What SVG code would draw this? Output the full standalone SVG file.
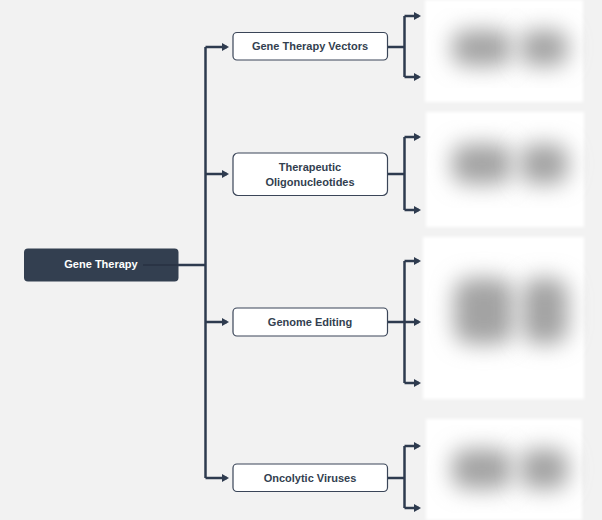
<svg xmlns="http://www.w3.org/2000/svg" width="602" height="520" viewBox="0 0 602 520">
<style>
.conn{fill:none;stroke:#2e3b4f;stroke-width:2.5;stroke-linejoin:miter}
.arr{marker-end:url(#ah)}
.child rect{fill:#ffffff;stroke:#3a4558;stroke-width:1.2}
.child text,.root text{font-family:"Liberation Sans",Arial,sans-serif;font-weight:bold;font-size:11px;text-anchor:middle}
.child text{fill:#333f50}
.root text{fill:#ffffff}
.panel{fill:#ffffff}
.blob{fill:#a3a3a3;filter:url(#blur)}
</style>
<defs>
<marker id="ah" markerWidth="9" markerHeight="9" refX="5" refY="4" orient="auto" markerUnits="userSpaceOnUse">
<path d="M0,0 L7,4 L0,8 Z" fill="#2e3b4f"/>
</marker>
<filter id="blur" x="-60%" y="-60%" width="220%" height="220%"><feGaussianBlur stdDeviation="11"/></filter>
<filter id="soft" x="-10%" y="-10%" width="120%" height="120%"><feGaussianBlur stdDeviation="1.5"/></filter>
</defs>
<rect width="602" height="520" fill="#f2f2f2"/>

<g id="panels">
<rect class="panel" x="425" y="0" width="158" height="102" filter="url(#soft)"/>
<rect class="blob" x="452" y="30" width="60" height="36" rx="14"/>
<rect class="blob" x="520" y="30" width="48" height="36" rx="14"/>
<rect class="panel" x="426" y="112" width="158" height="115" filter="url(#soft)"/>
<rect class="blob" x="452" y="144" width="60" height="40" rx="14"/>
<rect class="blob" x="520" y="144" width="48" height="40" rx="14"/>
<rect class="panel" x="423" y="237" width="161" height="162" filter="url(#soft)"/>
<rect class="blob" x="454" y="278" width="60" height="66" rx="16"/>
<rect class="blob" x="522" y="278" width="46" height="66" rx="16"/>
<rect class="panel" x="426" y="419" width="156" height="101" filter="url(#soft)"/>
<rect class="blob" x="452" y="449" width="60" height="40" rx="14"/>
<rect class="blob" x="520" y="449" width="48" height="40" rx="14"/>
</g>

<g id="connectors">
<path class="conn" d="M143,265 H205.5"/>
<path class="conn" d="M205.5,47 V478"/>
<path class="conn arr" d="M205.5,47 H227"/>
<path class="conn arr" d="M205.5,174 H227"/>
<path class="conn arr" d="M205.5,322 H227"/>
<path class="conn arr" d="M205.5,478 H227"/>

<path class="conn" d="M388,47 H404.5"/>
<path class="conn" d="M404.5,16 V77"/>
<path class="conn arr" d="M404.5,16 H419"/>
<path class="conn arr" d="M404.5,77 H419"/>

<path class="conn" d="M388,174 H404.5"/>
<path class="conn" d="M404.5,137 V210"/>
<path class="conn arr" d="M404.5,137 H419"/>
<path class="conn arr" d="M404.5,210 H419"/>

<path class="conn" d="M404.5,261 V383"/>
<path class="conn arr" d="M388,322 H419"/>
<path class="conn arr" d="M404.5,261 H419"/>
<path class="conn arr" d="M404.5,383 H419"/>

<path class="conn" d="M388,478 H404.5"/>
<path class="conn" d="M404.5,446 V508"/>
<path class="conn arr" d="M404.5,446 H419"/>
<path class="conn arr" d="M404.5,508 H419"/>
</g>

<g id="root" class="root">
<rect x="24" y="248.5" width="154.5" height="33" rx="4" fill="#333f50"/>
<path d="M143,265 H178" stroke="#2a3445" stroke-width="2"/>
<text x="101" y="268">Gene Therapy</text>
</g>

<g id="vectors" class="child">
<rect x="233" y="32.5" width="154.5" height="27.5" rx="4"/>
<text x="310" y="50">Gene Therapy Vectors</text>
</g>
<g id="oligo" class="child">
<rect x="233" y="153" width="154.5" height="42.5" rx="5"/>
<text x="310" y="171">Therapeutic</text>
<text x="310" y="186">Oligonucleotides</text>
</g>
<g id="genome" class="child">
<rect x="233" y="308" width="154.5" height="28" rx="4"/>
<text x="310" y="325.5">Genome Editing</text>
</g>
<g id="oncolytic" class="child">
<rect x="233" y="464" width="154.5" height="27.5" rx="4"/>
<text x="310" y="481.5">Oncolytic Viruses</text>
</g>
</svg>
